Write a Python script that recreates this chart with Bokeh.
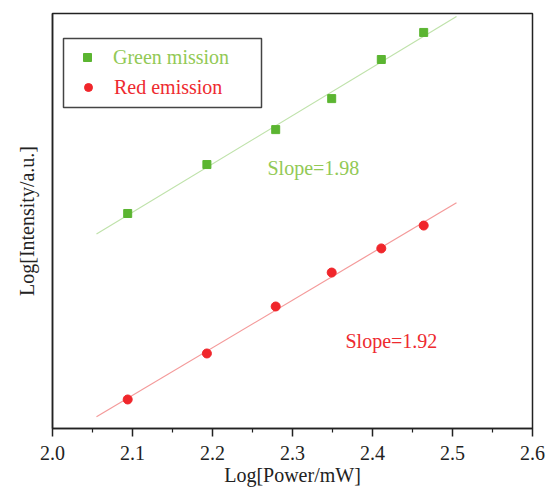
import numpy as np
from bokeh.plotting import figure
from bokeh.models import (Legend, LegendItem, Label, BoxAnnotation, Range1d,
                          FixedTicker, PrintfTickFormatter)
from bokeh.embed import file_html
from bokeh.resources import INLINE

# ---- data ----
log_power = [2.094, 2.193, 2.279, 2.349, 2.411, 2.464]
green_log_int = [3.874, 4.073, 4.215, 4.341, 4.500, 4.610]
red_log_int = [3.118, 3.305, 3.496, 3.634, 3.732, 3.825]
fit_range = [2.055, 2.505]
x_ticks = [2.0, 2.1, 2.2, 2.3, 2.4, 2.5, 2.6]
x_minor_ticks = [2.05, 2.15, 2.25, 2.35, 2.45, 2.55]
green_slope_text = "Slope=1.98"
red_slope_text = "Slope=1.92"

GREEN_MK = "#5bb531"
GREEN_TXT = "#92c955"
GREEN_LINE = "#bfe2aa"
RED_MK = "#f0262b"
RED_TXT = "#ee2a2f"
RED_LINE = "#f49a9a"
FONT = "Liberation Serif"
FS = "20px"

p = figure(width=548, height=490, output_backend="svg", toolbar_location=None,
           x_range=Range1d(2.0, 2.6), y_range=Range1d(3.0, 4.687),
           min_border_left=52, min_border_right=16, min_border_top=13, min_border_bottom=62)
p.grid.visible = False
p.outline_line_color = "#222222"
p.outline_line_width = 1.5
p.background_fill_color = "white"
p.border_fill_color = "white"

# fit lines
xf = np.array(fit_range)
gk = np.polyfit(log_power, green_log_int, 1)
rk = np.polyfit(log_power, red_log_int, 1)
p.line(xf, np.polyval(gk, xf), line_color=GREEN_LINE, line_width=1.2)
p.line(xf, np.polyval(rk, xf), line_color=RED_LINE, line_width=1.2)

g = p.scatter(log_power, green_log_int, marker="square", size=8,
              fill_color=GREEN_MK, line_color=GREEN_MK)
r = p.scatter(log_power, red_log_int, marker="circle", size=9,
              fill_color=RED_MK, line_color=RED_MK)

# axes
xa = p.xaxis[0]
xa.ticker = FixedTicker(ticks=x_ticks, minor_ticks=x_minor_ticks)
xa.formatter = PrintfTickFormatter(format="%.1f")
xa.axis_label = "Log[Power/mW]"
xa.axis_label_text_font = FONT
xa.axis_label_text_font_style = "normal"
xa.axis_label_text_font_size = FS
xa.axis_label_text_color = "#222222"
xa.axis_label_standoff = 1
xa.major_label_text_font = FONT
xa.major_label_text_font_size = FS
xa.major_label_text_color = "#222222"
xa.major_label_standoff = 9
xa.major_tick_out = 8
xa.major_tick_in = 0
xa.minor_tick_out = 4
xa.minor_tick_in = 0
xa.axis_line_width = 1.5
xa.major_tick_line_width = 1.5
xa.minor_tick_line_width = 1.2
xa.axis_line_color = "#222222"
xa.major_tick_line_color = "#222222"
xa.minor_tick_line_color = "#222222"

ya = p.yaxis[0]
ya.ticker = FixedTicker(ticks=[])
ya.axis_label = "Log[Intensity/a.u.]"
ya.axis_label_text_font = FONT
ya.axis_label_text_font_style = "normal"
ya.axis_label_text_font_size = FS
ya.axis_label_text_color = "#222222"
ya.axis_label_standoff = 15
ya.major_label_standoff = 0
ya.major_tick_out = 0
ya.major_tick_in = 0
ya.minor_tick_out = 0
ya.axis_line_width = 1.5
ya.axis_line_color = "#222222"

# legend: two single-item legends (own label colours) + frame
common = dict(border_line_alpha=0, background_fill_alpha=0, padding=0, margin=0,
              glyph_width=20, glyph_height=24, label_height=24, label_standoff=16,
              label_text_font=FONT, label_text_font_size=FS)
lg = Legend(items=[LegendItem(label="Green mission", renderers=[g])],
            location=(25, 359), label_text_color=GREEN_TXT, **common)
lr = Legend(items=[LegendItem(label="Red emission", renderers=[r])],
            location=(26, 329), label_text_color=RED_TXT, **common)
p.add_layout(lg)
p.add_layout(lr)
box = BoxAnnotation(left=11, right=209, bottom=321, top=390,
                    left_units="screen", right_units="screen",
                    bottom_units="screen", top_units="screen",
                    fill_alpha=0, line_color="#444444", line_width=1.5, line_alpha=1)
p.add_layout(box)

p.add_layout(Label(x=2.26875, y=4.057, text=green_slope_text, text_color=GREEN_TXT,
                   text_font=FONT, text_font_size=FS, text_baseline="middle"))
p.add_layout(Label(x=2.36625, y=3.354, text=red_slope_text, text_color=RED_TXT,
                   text_font=FONT, text_font_size=FS, text_baseline="middle"))

open("out.html", "w").write(file_html(p, INLINE))
